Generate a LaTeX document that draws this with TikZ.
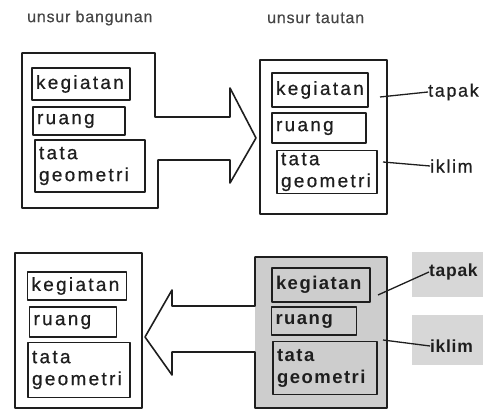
\documentclass[tikz,border=0pt]{standalone}
\usepackage{fontspec}
\newfontfamily\lbl[LetterSpace=12,FakeBold=0.6]{Liberation Sans}
\newfontfamily\lblb[LetterSpace=8]{Liberation Sans Bold}
\newfontfamily\tagf[LetterSpace=9,FakeBold=0.6]{Liberation Sans}
\newfontfamily\tagfb[LetterSpace=4]{Liberation Sans Bold}
\newfontfamily\hdr[LetterSpace=5,FakeBold=0.4]{Liberation Sans}
\definecolor{ink}{RGB}{30,30,30}
\definecolor{hdrink}{RGB}{70,70,70}
\definecolor{boxgray}{RGB}{205,205,205}
\definecolor{taggray}{RGB}{215,215,215}
\begin{document}
\begin{tikzpicture}[x=1pt,y=-1pt,line join=round,
  outline/.style={draw=ink,line width=1.6pt},
  ibox/.style={outline,inner xsep=4pt,inner ysep=0pt,align=left,text=ink,
    font=\lbl\fontsize{19}{22}\selectfont},
  dbox/.style={ibox,fill=boxgray,font=\lblb\fontsize{18.5}{22}\selectfont},
  hdrtxt/.style={anchor=west,inner sep=0pt,text=hdrink,font=\hdr\fontsize{16}{18}\selectfont},
  tagtxt/.style={anchor=west,inner sep=0pt,text=ink,font=\tagf\fontsize{18}{20}\selectfont},
  tagtxtb/.style={anchor=west,inner sep=0pt,text=ink,font=\tagfb\fontsize{17.5}{20}\selectfont},
  link/.style={draw=ink,line width=1.3pt}]
\useasboundingbox (0,0) rectangle (483,411);

% headers
\node[hdrtxt] (h1) at (27,18) {unsur bangunan};
\node[hdrtxt] (h2) at (267,18) {unsur tautan};

% top-left box merged with the right arrow
\draw[outline] (22,53) -- (155,53) -- (155,117) -- (230,117) -- (230,88) -- (256,138)
  -- (230,183) -- (230,160) -- (158,160) -- (158,208) -- (22,208) -- cycle;
\node[ibox,minimum width=98pt,minimum height=32pt,text width=90pt] (k1) at (81,84) {kegiatan};
\node[ibox,minimum width=92pt,minimum height=28pt,text width=84pt] (r1) at (79,121) {ruang};
\node[ibox,minimum width=110pt,minimum height=52pt,text width=102pt] (g1) at (90,166) {tata\\geometri};

% top-right box
\node[outline,minimum width=127pt,minimum height=154pt,inner sep=0pt] (o2) at (323.5,137) {};
\node[ibox,minimum width=96pt,minimum height=34pt,text width=88pt] (k2) at (320,90) {kegiatan};
\node[ibox,minimum width=94pt,minimum height=30pt,text width=86pt] (r2) at (319,128) {ruang};
\node[ibox,minimum width=100pt,minimum height=43pt,text width=92pt] (g2) at (327,172) {tata\\geometri};
\node[tagtxt] (tp1) at (428,92) {tapak};
\node[tagtxt] (ik1) at (430,166) {iklim};
\coordinate (c1) at (380,97);
\coordinate (c2) at (383,162);
\draw[link] (c1) -- (tp1.west);
\draw[link] (c2) -- (ik1.west);

% bottom-left box
\node[outline,minimum width=127pt,minimum height=155pt,inner sep=0pt] (o3) at (78.5,330.5) {};
\node[ibox,minimum width=99pt,minimum height=28pt,text width=91pt] (k3) at (77,286) {kegiatan};
\node[ibox,minimum width=87pt,minimum height=30pt,text width=79pt] (r3) at (73,322) {ruang};
\node[ibox,minimum width=102pt,minimum height=55pt,text width=94pt] (g3) at (79,370) {tata\\geometri};

% bottom-right shaded box merged with the left arrow
\fill[boxgray] (255,257) rectangle (387,408);
\fill[taggray] (412,252) rectangle (483,297);
\fill[taggray] (412,315) rectangle (483,365);
\draw[outline] (255,257) -- (387,257) -- (387,408) -- (255,408) -- (255,352) -- (172,352)
  -- (172,375) -- (145,337) -- (172,290) -- (172,306) -- (255,306) -- cycle;
\node[dbox,minimum width=98pt,minimum height=34pt,text width=90pt] (k4) at (321,285) {kegiatan};
\node[dbox,minimum width=85pt,minimum height=28pt,text width=77pt] (r4) at (314,321) {ruang};
\node[dbox,minimum width=104pt,minimum height=53pt,text width=96pt] (g4) at (325,368) {tata\\geometri};
\node[tagtxtb] (tp2) at (429,272) {tapak};
\node[tagtxtb] (ik2) at (430,346) {iklim};
\coordinate (c3) at (378,295);
\coordinate (c4) at (383,340);
\draw[link] (c3) -- (tp2.west);
\draw[link] (c4) -- (ik2.west);
\end{tikzpicture}
\end{document}
